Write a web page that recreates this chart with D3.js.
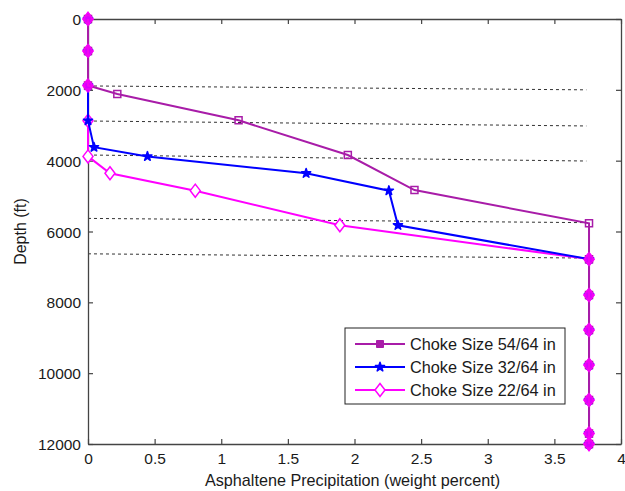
<!DOCTYPE html>
<html><head><meta charset="utf-8">
<script src="https://cdn.jsdelivr.net/npm/d3@7"></script>
<style>
html,body{margin:0;padding:0;background:#fff;}
text{font-family:"Liberation Sans",Arial,sans-serif;fill:#1a1a1a;}
</style></head>
<body><svg id="c" width="625" height="491"></svg>
<script>
// ---- data ----
const seriesNames = ["Choke Size 54/64 in", "Choke Size 32/64 in", "Choke Size 22/64 in"];
const s54X     = [0, 0, 0, 0.22, 1.13, 1.95, 2.45, 3.76, 3.76, 3.76, 3.76, 3.76, 3.76, 3.76, 3.76];
const s54Depth = [0, 900, 1880, 2120, 2860, 3840, 4830, 5770, 6780, 7790, 8780, 9770, 10760, 11700, 12000];
const s32X     = [0, 0, 0, 0, 0.045, 0.446, 1.637, 2.258, 2.326, 3.76, 3.76, 3.76, 3.76, 3.76, 3.76, 3.76];
const s32Depth = [0, 900, 1880, 2870, 3620, 3880, 4357, 4847, 5825, 6780, 7790, 8780, 9770, 10760, 11700, 12000];
const s22X     = [0, 0, 0, 0, 0, 0.165, 0.805, 1.89, 3.76, 3.76, 3.76, 3.76, 3.76, 3.76, 3.76];
const s22Depth = [0, 900, 1880, 2870, 3880, 4357, 4847, 5825, 6780, 7790, 8780, 9770, 10760, 11700, 12000];
const refLeftDepth  = [1890, 2880, 3840, 5630, 6630];
const refRightDepth = [2000, 3020, 4010, 5750, 6750];
const refXEnd = 3.74;
const xTicks = [0, 0.5, 1, 1.5, 2, 2.5, 3, 3.5, 4];
const xTickLabels = ["0", "0.5", "1", "1.5", "2", "2.5", "3", "3.5", "4"];
const yTicks = [0, 2000, 4000, 6000, 8000, 10000, 12000];
const xLabel = "Asphaltene Precipitation (weight percent)";
const yLabel = "Depth (ft)";

// ---- layout ----
const W = 625, H = 491;
const m = {left: 88, right: 4, top: 19, bottom: 47};
const svg = d3.select("#c");
const x = d3.scaleLinear().domain([0, 4]).range([m.left, W - m.right]);
const y = d3.scaleLinear().domain([0, 12000]).range([m.top, H - m.bottom]);
const axisColor = "#444";

// reference dashed lines
const refs = refLeftDepth.map((d, i) => [d, refRightDepth[i]]);
svg.append("g").selectAll("line").data(refs).join("line")
  .attr("x1", x(0)).attr("x2", x(refXEnd))
  .attr("y1", d => y(d[0])).attr("y2", d => y(d[1]))
  .attr("stroke", "#333").attr("stroke-width", 1).attr("stroke-dasharray", "3,3");

// axes (box with inward ticks)
const tl = 5;
const gB = svg.append("g").attr("transform", `translate(0,${y(12000)})`)
  .call(d3.axisBottom(x).tickValues(xTicks).tickFormat((d, i) => xTickLabels[i]).tickSizeInner(-tl).tickSizeOuter(0).tickPadding(9));
const gT = svg.append("g").attr("transform", `translate(0,${y(0)})`)
  .call(d3.axisTop(x).tickValues(xTicks).tickFormat("").tickSizeInner(-tl).tickSizeOuter(0));
const gL = svg.append("g").attr("transform", `translate(${x(0)},0)`)
  .call(d3.axisLeft(y).tickValues(yTicks).tickFormat(d3.format("d")).tickSizeInner(-tl).tickSizeOuter(0).tickPadding(7));
const gR = svg.append("g").attr("transform", `translate(${x(4)},0)`)
  .call(d3.axisRight(y).tickValues(yTicks).tickFormat("").tickSizeInner(-tl).tickSizeOuter(0));
[gB, gT, gL, gR].forEach(g => {
  g.select(".domain").attr("stroke", axisColor).attr("stroke-width", 1.3);
  g.selectAll(".tick line").attr("stroke", axisColor).attr("stroke-width", 1.2);
  g.selectAll("text").style("font-size", "15.5px").attr("fill", "#1a1a1a");
});
gB.selectAll(".tick text").attr("dy", "0.71em");
gL.selectAll(".tick text").attr("dy", "0.36em");

// axis labels
svg.append("text").attr("x", (x(0) + x(4)) / 2 - 2).attr("y", 486).attr("text-anchor", "middle")
  .style("font-size", "16.2px").text(xLabel);
svg.append("text").attr("transform", `translate(26,${(y(0) + y(12000)) / 2}) rotate(-90)`)
  .attr("text-anchor", "middle").style("font-size", "16px").text(yLabel);

// series
const mk = (xs, ds) => xs.map((v, i) => ({x: v, d: ds[i]}));
const data54 = mk(s54X, s54Depth), data32 = mk(s32X, s32Depth), data22 = mk(s22X, s22Depth);
const colors = ["#A81CA8", "#0000FF", "#FF00FF"];
const line = d3.line().x(p => x(p.x)).y(p => y(p.d));

const squarePath = "M-3.5,-3.5H3.5V3.5H-3.5Z";
const starPath = d3.symbol().type(d3.symbolStar).size(26)();
const diamondPath = "M0,-6.5L5,0L0,6.5L-5,0Z";

function shared(p) {
  const inSet = arr => arr.some(q => Math.abs(q.x - p.x) < 1e-6 && Math.abs(q.d - p.d) < 1e-6);
  return inSet(data54) && inSet(data32);
}

function drawSeries(data, color, kind) {
  const g = svg.append("g");
  g.append("path").datum(data).attr("d", line).attr("fill", "none")
    .attr("stroke", color).attr("stroke-width", 2);
  const pts = g.selectAll("path.m").data(data).join("path").attr("class", "m")
    .attr("transform", p => `translate(${x(p.x)},${y(p.d)})`);
  if (kind === "square") pts.attr("d", squarePath).attr("fill", "none").attr("stroke", color).attr("stroke-width", 1.5);
  if (kind === "star") pts.attr("d", starPath).attr("fill", color).attr("stroke", color).attr("stroke-width", 1.5).attr("stroke-linejoin", "round");
  if (kind === "diamond") pts.attr("d", diamondPath).attr("fill", p => shared(p) ? color : "#fff")
    .attr("stroke", color).attr("stroke-width", 1.5);
}
drawSeries(data22, colors[2], "diamond");
drawSeries(data32, colors[1], "star");
drawSeries(data54, colors[0], "square");
// shared markers drawn on top
svg.append("g").selectAll("path").data(data22.filter(shared)).join("path")
  .attr("transform", p => `translate(${x(p.x)},${y(p.d)})`)
  .attr("d", diamondPath).attr("fill", colors[2]).attr("stroke", colors[2]).attr("stroke-width", 1.5).attr("opacity", 0.85);

// legend
const lg = svg.append("g").attr("transform", "translate(345,328)");
lg.append("rect").attr("width", 220).attr("height", 76).attr("fill", "#fff").attr("stroke", "#222").attr("stroke-width", 1);
const kinds = ["square", "star", "diamond"];
seriesNames.forEach((name, i) => {
  const yy = 16 + i * 23;
  lg.append("line").attr("x1", 10).attr("x2", 60).attr("y1", yy).attr("y2", yy).attr("stroke", colors[i]).attr("stroke-width", 2);
  const pth = lg.append("path").attr("transform", `translate(35,${yy})`);
  if (kinds[i] === "square") pth.attr("d", squarePath).attr("fill", colors[i]).attr("stroke", colors[i]);
  if (kinds[i] === "star") pth.attr("d", starPath).attr("fill", colors[i]).attr("stroke", colors[i]).attr("stroke-width", 1.5).attr("stroke-linejoin", "round");
  if (kinds[i] === "diamond") pth.attr("d", diamondPath).attr("fill", "#fff").attr("stroke", colors[i]).attr("stroke-width", 1.5);
  lg.append("text").attr("x", 65).attr("y", yy).attr("dy", "0.36em").style("font-size", "16.3px").text(name);
});
</script></body></html>
